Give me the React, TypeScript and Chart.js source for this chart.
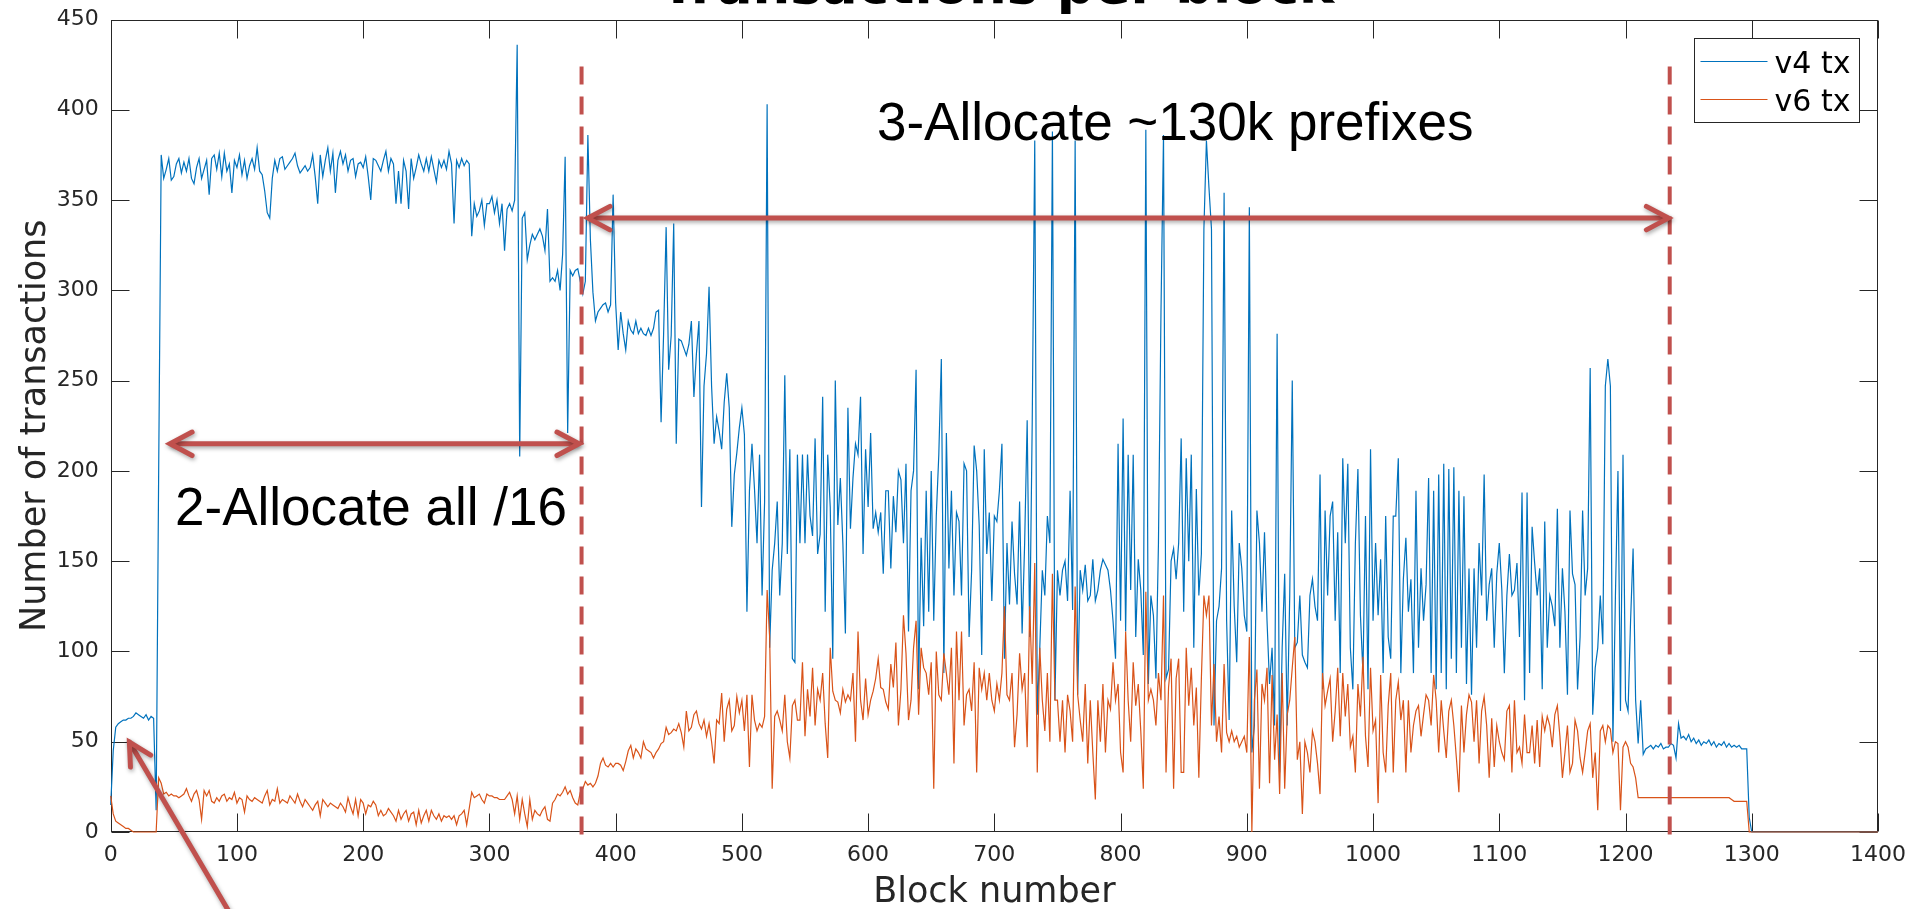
import React, { useEffect, useRef } from "react";
import { Chart, registerables } from "chart.js";

Chart.register(...registerables);

// ---------- data (one value every BLOCK_STEP blocks, starting at block 0) ----------
const BLOCK_STEP = 2;

const v4Tx = [
  15, 45, 58, 60, 61, 62, 62, 63, 63, 64, 66, 65, 64, 63, 65, 62, 64, 63, 12, 200, 375, 362, 367, 373, 361,
  363, 370, 373, 365, 371, 366, 373, 362, 359, 368, 373, 362, 367, 372, 353, 373, 375, 367, 376, 363, 376, 366, 370, 354, 372,
  368, 375, 364, 372, 362, 369, 373, 367, 379, 366, 364, 355, 343, 340, 362, 372, 366, 373, 374, 367, 369, 371, 373, 376, 369,
  365, 367, 369, 366, 368, 375, 363, 348, 375, 363, 372, 379, 366, 376, 354, 372, 377, 370, 375, 366, 372, 373, 363, 370, 371,
  368, 374, 363, 350, 373, 372, 369, 366, 372, 377, 366, 373, 370, 348, 366, 348, 372, 366, 345, 373, 362, 368, 375, 370, 366,
  373, 366, 374, 367, 360, 372, 368, 372, 367, 377, 370, 337, 372, 368, 373, 369, 372, 370, 330, 348, 341, 344, 350, 336, 348,
  348, 352, 343, 350, 337, 348, 322, 345, 348, 344, 350, 436, 208, 340, 343, 317, 325, 331, 328, 331, 334, 330, 322, 345, 305,
  307, 305, 311, 300, 320, 374, 221, 311, 308, 311, 312, 305, 298, 305, 386, 328, 299, 283, 288, 290, 292, 293, 288, 292, 353,
  293, 267, 288, 276, 267, 283, 278, 276, 283, 276, 279, 276, 275, 279, 275, 279, 288, 289, 227, 276, 335, 256, 275, 337, 215,
  273, 272, 268, 264, 270, 283, 241, 265, 283, 180, 247, 265, 302, 247, 215, 230, 222, 212, 238, 254, 235, 169, 198, 210, 224,
  235, 220, 122, 189, 215, 190, 160, 209, 131, 183, 403, 102, 145, 160, 183, 131, 160, 253, 154, 212, 96, 94, 209, 160, 209,
  160, 209, 175, 164, 218, 154, 165, 241, 122, 209, 180, 96, 250, 170, 196, 160, 110, 235, 168, 196, 215, 209, 241, 154, 212,
  180, 221, 168, 177, 166, 177, 143, 189, 189, 146, 186, 166, 200, 195, 160, 204, 111, 189, 200, 256, 79, 163, 114, 189, 122,
  200, 117, 175, 209, 262, 88, 221, 146, 189, 131, 177, 172, 131, 204, 200, 108, 145, 214, 200, 170, 98, 212, 154, 177, 128,
  175, 172, 189, 215, 96, 160, 126, 172, 143, 126, 183, 110, 160, 228, 108, 227, 383, 65, 102, 145, 131, 175, 160, 388, 73,
  145, 131, 145, 150, 128, 189, 123, 383, 76, 145, 134, 148, 128, 131, 151, 128, 134, 145, 151, 148, 145, 134, 117, 96, 215,
  117, 229, 111, 209, 134, 209, 108, 151, 134, 98, 389, 82, 131, 120, 85, 160, 288, 386, 85, 90, 150, 157, 140, 160, 218,
  122, 207, 150, 209, 102, 190, 131, 154, 334, 383, 357, 334, 59, 117, 125, 146, 354, 117, 62, 178, 125, 94, 160, 146, 120,
  111, 346, 44, 59, 178, 160, 122, 166, 117, 82, 102, 59, 276, 33, 102, 143, 59, 131, 250, 102, 105, 131, 98, 94, 91,
  131, 140, 125, 117, 198, 79, 178, 131, 175, 183, 117, 166, 88, 207, 160, 204, 102, 79, 160, 201, 120, 88, 175, 79, 212,
  117, 160, 120, 151, 88, 175, 108, 96, 175, 175, 207, 88, 140, 163, 122, 140, 88, 189, 102, 146, 117, 137, 196, 88, 189,
  79, 198, 88, 204, 79, 201, 96, 202, 88, 189, 102, 186, 82, 146, 76, 146, 102, 160, 131, 198, 117, 137, 146, 102, 143,
  160, 134, 88, 131, 154, 131, 134, 149, 108, 188, 73, 188, 88, 169, 149, 131, 146, 79, 172, 102, 131, 125, 114, 179, 102,
  146, 122, 76, 178, 143, 137, 79, 108, 178, 131, 146, 257, 65, 91, 102, 131, 104, 247, 262, 247, 50, 131, 200, 67, 209,
  73, 67, 117, 157, 73, 49, 73, 43, 46, 47, 48, 46, 48, 47, 49, 46, 47, 47, 49, 48, 41, 60, 52, 53, 51,
  54, 50, 52, 49, 51, 48, 50, 49, 51, 48, 50, 47, 49, 48, 50, 47, 49, 47, 48, 47, 48, 46, 46, 46, 8,
  0, 0, 0, 0, 0, 0, 0, 0, 0, 0, 0, 0, 0, 0, 0, 0, 0, 0, 0, 0, 0, 0, 0, 0, 0,
  0, 0, 0, 0, 0, 0, 0, 0, 0, 0, 0, 0, 0, 0, 0, 0, 0, 0, 0, 0, 0, 0, 0, 0, 0,
  0,
];

const v6Tx = [
  20, 10, 6, 5, 4, 3, 2, 2, 1, 0, 0, 0, 0, 0, 0, 0, 0, 0, 0, 30, 27, 21, 22, 20, 21,
  20, 20, 19, 20, 21, 24, 20, 17, 21, 23, 18, 7, 23, 20, 23, 17, 16, 19, 17, 20, 21, 17, 19, 18, 22,
  16, 19, 18, 11, 20, 18, 17, 19, 18, 17, 16, 20, 23, 15, 18, 17, 24, 16, 18, 17, 16, 20, 18, 16, 21,
  17, 14, 18, 16, 14, 12, 15, 17, 9, 18, 16, 14, 16, 15, 14, 13, 16, 14, 11, 19, 14, 10, 18, 9, 18,
  16, 10, 15, 14, 17, 15, 9, 12, 9, 10, 13, 11, 9, 6, 12, 7, 10, 12, 6, 10, 11, 4, 12, 5, 9,
  12, 6, 12, 9, 7, 10, 6, 9, 8, 9, 7, 9, 4, 9, 10, 12, 4, 13, 22, 19, 20, 21, 18, 16, 21,
  20, 20, 19, 19, 18, 18, 18, 20, 22, 18, 10, 20, 7, 18, 10, 3, 18, 7, 12, 10, 9, 12, 14, 7, 6,
  16, 18, 21, 20, 22, 25, 21, 23, 19, 16, 15, 22, 24, 28, 26, 27, 25, 27, 31, 38, 41, 37, 36, 38, 36,
  38, 38, 37, 34, 39, 45, 48, 41, 46, 44, 41, 50, 46, 45, 44, 41, 44, 46, 49, 50, 58, 54, 55, 57, 56,
  60, 55, 47, 67, 56, 58, 65, 67, 60, 57, 62, 53, 60, 50, 38, 62, 60, 77, 50, 68, 73, 56, 59, 75, 66,
  73, 56, 76, 36, 76, 62, 56, 60, 58, 64, 134, 108, 24, 64, 67, 62, 56, 76, 50, 41, 70, 73, 62, 62, 94,
  53, 79, 64, 91, 59, 79, 73, 88, 60, 41, 102, 78, 73, 72, 66, 79, 72, 76, 73, 88, 50, 111, 73, 62, 85,
  65, 73, 78, 85, 96, 80, 79, 72, 68, 93, 80, 105, 59, 79, 120, 99, 62, 73, 102, 117, 65, 102, 91, 88, 76,
  94, 24, 100, 76, 73, 99, 88, 76, 102, 38, 111, 73, 111, 59, 76, 79, 67, 94, 33, 91, 79, 88, 73, 88, 73,
  67, 82, 73, 88, 125, 76, 73, 88, 47, 65, 99, 79, 88, 47, 125, 82, 149, 33, 102, 73, 56, 88, 50, 143, 73,
  73, 50, 73, 44, 76, 67, 50, 136, 76, 62, 50, 82, 38, 73, 44, 18, 73, 50, 82, 44, 73, 68, 94, 73, 82,
  44, 33, 111, 73, 50, 94, 70, 82, 56, 24, 133, 73, 79, 73, 59, 88, 73, 131, 33, 80, 96, 24, 85, 96, 33,
  33, 102, 70, 91, 59, 80, 30, 85, 131, 120, 131, 59, 93, 50, 64, 44, 93, 55, 50, 56, 50, 53, 47, 50, 53,
  44, 108, 0, 73, 90, 24, 82, 73, 91, 27, 87, 40, 65, 21, 88, 24, 65, 73, 91, 108, 40, 50, 10, 50, 44,
  33, 56, 50, 38, 21, 88, 70, 78, 85, 50, 67, 91, 53, 88, 64, 82, 47, 53, 33, 82, 64, 97, 53, 36, 91,
  56, 62, 16, 87, 44, 33, 70, 88, 33, 73, 83, 62, 73, 33, 73, 44, 59, 67, 70, 53, 65, 76, 73, 59, 87,
  73, 44, 73, 56, 41, 67, 73, 59, 41, 22, 70, 44, 65, 76, 72, 50, 73, 38, 67, 75, 59, 30, 63, 36, 59,
  50, 44, 40, 67, 70, 33, 73, 44, 47, 38, 65, 44, 44, 59, 38, 62, 36, 64, 56, 64, 59, 47, 65, 70, 53,
  30, 44, 59, 33, 38, 62, 56, 41, 33, 44, 56, 60, 30, 44, 12, 56, 59, 50, 59, 57, 44, 50, 49, 12, 47,
  50, 47, 38, 36, 30, 19, 19, 19, 19, 19, 19, 19, 19, 19, 19, 19, 19, 19, 19, 19, 19, 19, 19, 19, 19,
  19, 19, 19, 19, 19, 19, 19, 19, 19, 19, 19, 19, 19, 19, 19, 19, 19, 18, 17, 17, 17, 17, 17, 17, 0,
  0, 0, 0, 0, 0, 0, 0, 0, 0, 0, 0, 0, 0, 0, 0, 0, 0, 0, 0, 0, 0, 0, 0, 0, 0,
  0, 0, 0, 0, 0, 0, 0, 0, 0, 0, 0, 0, 0, 0, 0, 0, 0, 0, 0, 0, 0, 0, 0, 0, 0,
  0,
];

const seriesLabels = ["v4 tx", "v6 tx"];
const xTickValues = [0, 100, 200, 300, 400, 500, 600, 700, 800, 900, 1000, 1100, 1200, 1300, 1400];
const yTickValues = [0, 50, 100, 150, 200, 250, 300, 350, 400, 450];

const titleText = "Transactions per block";
const xAxisTitle = "Block number";
const yAxisTitle = "Number of transactions";

// annotation anchors (in data units)
const phaseLineBlocks = [373, 1235];
const phaseLineTop = 424;
const rangeArrows = [
  { from: 47, to: 371, at: 215 },
  { from: 378, to: 1234, at: 340 },
];
const pointerArrow = { fromX: 97, fromY: -48, toX: 14.8, toY: 49.8 };
const notes = [
  { text: "2-Allocate all /16", x: 51, y: 170 },
  { text: "3-Allocate ~130k prefixes", x: 607, y: 383 },
];

// ---------- styles ----------
const BLUE = "#0072BD";
const ORANGE = "#D95319";
const AXIS = "#262626";
const NOTE_RED = "#C0504D";
const AX_FONT = "'DejaVu Sans', sans-serif";

function toPoints(values: number[]) {
  return values.map((y, i) => ({ x: i * BLOCK_STEP, y }));
}

function arrowHead(ctx: CanvasRenderingContext2D, tx: number, ty: number, angle: number) {
  const len = 25;
  const spread = (28 * Math.PI) / 180;
  ctx.beginPath();
  ctx.moveTo(tx - len * Math.cos(angle - spread), ty - len * Math.sin(angle - spread));
  ctx.lineTo(tx, ty);
  ctx.lineTo(tx - len * Math.cos(angle + spread), ty - len * Math.sin(angle + spread));
  ctx.stroke();
}

const decorPlugin = {
  id: "decor",
  beforeDatasetsDraw(chart: any) {
    // axes box and inward ticks (drawn beneath the data, like MATLAB's default layer)
    const ctx: CanvasRenderingContext2D = chart.ctx;
    const xs = chart.scales.x;
    const ys = chart.scales.y;
    const area = chart.chartArea;
    const L = Math.round(area.left) + 0.5;
    const R = Math.round(area.right) - 0.5;
    const T = Math.round(area.top) + 0.5;
    const B = Math.round(area.bottom) - 0.5;
    const tickLen = 18;

    ctx.save();
    ctx.strokeStyle = AXIS;
    ctx.lineWidth = 1;
    ctx.strokeRect(L, T, R - L, B - T);
    ctx.beginPath();
    xTickValues.forEach((v) => {
      const px = Math.round(xs.getPixelForValue(v)) + 0.5;
      ctx.moveTo(px, B);
      ctx.lineTo(px, B - tickLen);
      ctx.moveTo(px, T);
      ctx.lineTo(px, T + tickLen);
    });
    yTickValues.forEach((v) => {
      const py = Math.round(ys.getPixelForValue(v)) + 0.5;
      ctx.moveTo(L, py);
      ctx.lineTo(L + tickLen, py);
      ctx.moveTo(R, py);
      ctx.lineTo(R - tickLen, py);
    });
    ctx.stroke();
    ctx.restore();
  },
  afterDatasetsDraw(chart: any) {
    const ctx: CanvasRenderingContext2D = chart.ctx;
    const xs = chart.scales.x;
    const ys = chart.scales.y;
    const area = chart.chartArea;

    // dashed phase separators
    ctx.save();
    ctx.strokeStyle = NOTE_RED;
    ctx.lineWidth = 4;
    ctx.setLineDash([18, 12]);
    phaseLineBlocks.forEach((b) => {
      const px = xs.getPixelForValue(b);
      ctx.beginPath();
      ctx.moveTo(px, ys.getPixelForValue(phaseLineTop));
      ctx.lineTo(px, area.bottom + 3);
      ctx.stroke();
    });
    ctx.restore();

    // arrows
    ctx.save();
    ctx.strokeStyle = NOTE_RED;
    ctx.lineWidth = 5;
    ctx.lineCap = "round";
    ctx.lineJoin = "miter";
    ctx.shadowColor = "rgba(0,0,0,0.35)";
    ctx.shadowBlur = 4;
    ctx.shadowOffsetX = 1;
    ctx.shadowOffsetY = 2;
    rangeArrows.forEach((a) => {
      const x1 = xs.getPixelForValue(a.from);
      const x2 = xs.getPixelForValue(a.to);
      const y = ys.getPixelForValue(a.at);
      ctx.beginPath();
      ctx.moveTo(x1 + 2, y);
      ctx.lineTo(x2 - 2, y);
      ctx.stroke();
      arrowHead(ctx, x1, y, Math.PI);
      arrowHead(ctx, x2, y, 0);
    });
    {
      const fx = xs.getPixelForValue(pointerArrow.fromX);
      const fy = ys.getPixelForValue(pointerArrow.fromY);
      const tx = xs.getPixelForValue(pointerArrow.toX);
      const ty = ys.getPixelForValue(pointerArrow.toY);
      ctx.beginPath();
      ctx.moveTo(fx, fy);
      ctx.lineTo(tx, ty);
      ctx.stroke();
      arrowHead(ctx, tx, ty, Math.atan2(ty - fy, tx - fx));
    }
    ctx.restore();

    // notes
    ctx.save();
    ctx.fillStyle = "#000";
    ctx.font = "53px 'Liberation Sans', Arial, sans-serif";
    ctx.textAlign = "left";
    ctx.textBaseline = "alphabetic";
    notes.forEach((n) => {
      ctx.fillText(n.text, xs.getPixelForValue(n.x), ys.getPixelForValue(n.y));
    });
    ctx.restore();
  },
  afterDraw(chart: any) {
    const ctx: CanvasRenderingContext2D = chart.ctx;
    const area = chart.chartArea;

    // axis titles
    ctx.save();
    ctx.fillStyle = AXIS;
    ctx.font = `35px ${AX_FONT}`;
    ctx.textAlign = "center";
    ctx.textBaseline = "alphabetic";
    ctx.fillText(xAxisTitle, (area.left + area.right) / 2, 902);
    ctx.translate(area.left - 66, (area.top + area.bottom) / 2);
    ctx.rotate(-Math.PI / 2);
    ctx.fillText(yAxisTitle, 0, 0);
    ctx.restore();

    // title (cropped at top of picture)
    ctx.save();
    ctx.fillStyle = "#000";
    ctx.font = `bold 53px ${AX_FONT}`;
    ctx.textAlign = "center";
    ctx.textBaseline = "alphabetic";
    ctx.fillText(titleText, (area.left + area.right) / 2 + 3, 3);
    ctx.restore();

    // legend
    const lw = 165;
    const lh = 84;
    const lx = Math.round(area.right - 184) + 0.5;
    const ly = Math.round(area.top + 18) + 0.5;
    ctx.save();
    ctx.fillStyle = "#fff";
    ctx.fillRect(lx, ly, lw, lh);
    ctx.strokeStyle = AXIS;
    ctx.lineWidth = 1;
    ctx.strokeRect(lx, ly, lw, lh);
    chart.data.datasets.forEach((ds: any, i: number) => {
      const rowY = ly + 23 + i * 38;
      ctx.strokeStyle = ds.borderColor;
      ctx.lineWidth = 1.2;
      ctx.beginPath();
      ctx.moveTo(lx + 6, rowY);
      ctx.lineTo(lx + 73, rowY);
      ctx.stroke();
      ctx.fillStyle = "#000";
      ctx.font = `30px ${AX_FONT}`;
      ctx.textAlign = "left";
      ctx.textBaseline = "alphabetic";
      ctx.fillText(ds.label, lx + 80, rowY + 11);
    });
    ctx.restore();
  },
};

export default function App() {
  const canvasRef = useRef<HTMLCanvasElement | null>(null);

  useEffect(() => {
    document.body.style.margin = "0";
    const canvas = canvasRef.current;
    if (!canvas) return;
    const tickFont = { family: AX_FONT, size: 22 };
    const plainLabel = (v: any) => String(v);
    const chart = new Chart(canvas, {
      type: "line",
      data: {
        datasets: [
          {
            label: seriesLabels[0],
            data: toPoints(v4Tx),
            borderColor: BLUE,
            backgroundColor: BLUE,
            borderWidth: 1.2,
            pointRadius: 0,
            tension: 0,
            fill: false,
            order: 2,
            clip: 2,
          },
          {
            label: seriesLabels[1],
            data: toPoints(v6Tx),
            borderColor: ORANGE,
            backgroundColor: ORANGE,
            borderWidth: 1.2,
            pointRadius: 0,
            tension: 0,
            fill: false,
            order: 1,
            clip: 2,
          },
        ],
      },
      options: {
        responsive: false,
        animation: false,
        devicePixelRatio: 1,
        events: [],
        layout: { padding: { left: 0, top: 19.5, right: 37, bottom: 0 } },
        plugins: {
          legend: { display: false },
          tooltip: { enabled: false },
          title: { display: false },
        },
        scales: {
          x: {
            type: "linear",
            min: 0,
            max: 1400,
            grid: { display: false },
            border: { display: false },
            ticks: {
              stepSize: 100,
              autoSkip: false,
              maxRotation: 0,
              minRotation: 0,
              font: tickFont,
              color: AXIS,
              padding: 2,
              callback: plainLabel,
            },
            afterBuildTicks: (s: any) => {
              s.ticks = xTickValues.map((v) => ({ value: v }));
            },
            afterFit: (s: any) => {
              s.height = 77;
            },
          },
          y: {
            type: "linear",
            min: 0,
            max: 450,
            grid: { display: false },
            border: { display: false },
            ticks: {
              stepSize: 50,
              autoSkip: false,
              font: tickFont,
              color: AXIS,
              padding: 4,
              callback: plainLabel,
            },
            afterBuildTicks: (s: any) => {
              s.ticks = yTickValues.map((v) => ({ value: v }));
            },
            afterFit: (s: any) => {
              s.width = 110.7;
            },
          },
        },
      } as any,
      plugins: [decorPlugin],
    });
    return () => chart.destroy();
  }, []);

  return (
    <div style={{ position: "fixed", left: 0, top: 0, width: 1915, height: 909, background: "#fff" }}>
      <canvas ref={canvasRef} width={1915} height={909} style={{ display: "block" }} />
    </div>
  );
}
